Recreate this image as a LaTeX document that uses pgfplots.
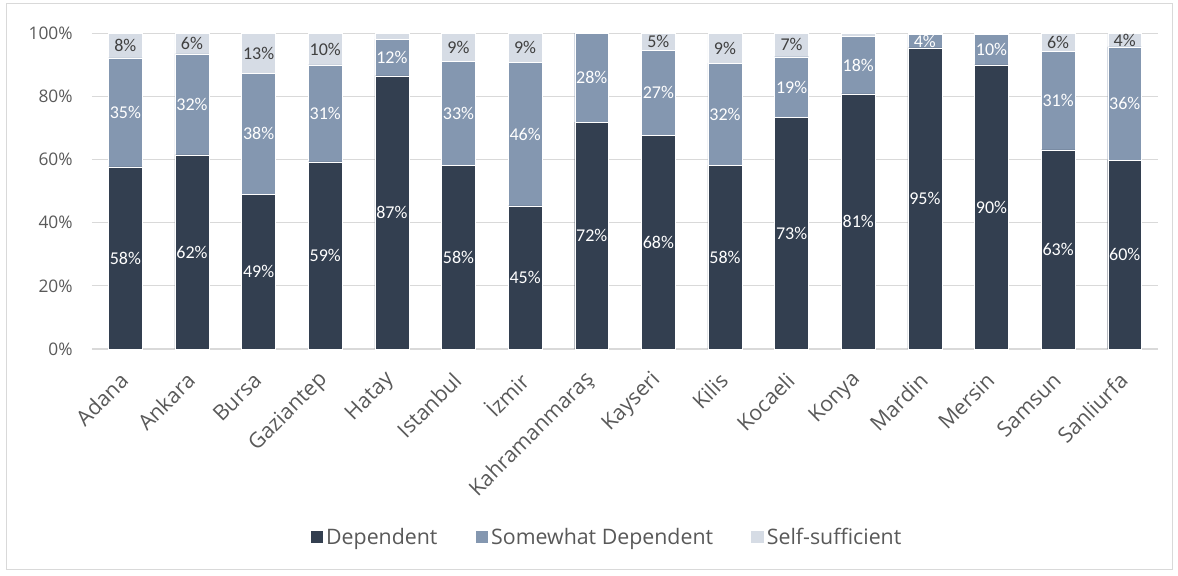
\documentclass[border=0pt]{standalone}
\usepackage{fontspec}
\setmainfont{Open Sans}
\newfontfamily\lblfont{Carlito}
\usepackage{pgfplots}
\usepackage{pgfplotstable}
\pgfplotsset{compat=1.18}

\definecolor{depc}{HTML}{333F50}
\definecolor{somc}{HTML}{8497B0}
\definecolor{selfc}{HTML}{D6DCE5}
\definecolor{gridc}{HTML}{D9D9D9}
\definecolor{txtc}{HTML}{595959}
\definecolor{lblc}{HTML}{404040}

% shares per city; labels as printed on the chart
\pgfplotstableread{
x  dep  som  slf  ld     ls     lf
0  57.6 34.5 7.9  58\%   35\%   8\%
1  61.4 32.0 6.6  62\%   32\%   6\%
2  49.0 38.3 12.7 49\%   38\%   13\%
3  59.2 30.7 10.1 59\%   31\%   10\%
4  86.4 11.7 1.9  87\%   12\%   {}
5  58.2 32.9 8.9  58\%   33\%   9\%
6  45.3 45.5 9.2  45\%   46\%   9\%
7  71.8 28.2 0.0  72\%   28\%   {}
8  67.7 26.9 5.4  68\%   27\%   5\%
9  58.2 32.3 9.5  58\%   32\%   9\%
10 73.2 19.3 7.5  73\%   19\%   7\%
11 80.7 18.3 1.0  81\%   18\%   {}
12 95.3 4.3  0.4  95\%   4\%    {}
13 89.9 9.6  0.5  90\%   10\%   {}
14 63.0 31.3 5.7  63\%   31\%   6\%
15 59.8 35.8 4.4  60\%   36\%   4\%
}\data

\begin{document}
\begin{tikzpicture}
\pgfplotsset{
  base/.style={width=799.5pt, height=237pt, scale only axis,
    xmin=-0.5, xmax=15.5, ymin=0, ymax=100, clip=false},
  lbl/.style={draw=none, mark=none, nodes near coords, point meta=explicit symbolic,
    nodes near coords style={anchor=center, inner sep=0pt,
      font=\lblfont\fontsize{13.5}{15}\selectfont, text=#1}},
}
\begin{axis}[base, name=main,
  ybar stacked, bar width=0.51,
  axis lines*=left,
  x axis line style={gridc, line width=1pt},
  y axis line style={draw=none},
  major tick length=0pt,
  xtick={0,...,15},
  xticklabels={Adana,Ankara,Bursa,Gaziantep,Hatay,Istanbul,İzmir,Kahramanmaraş,Kayseri,Kilis,Kocaeli,Konya,Mardin,Mersin,Samsun,Sanliurfa},
  ytick={0,20,...,100},
  yticklabel={\pgfmathprintnumber[assume math mode=true]{\tick}\%},
  ymajorgrids, grid style={gridc, line width=0.75pt},
  tick label style={font=\fontsize{13}{15}\selectfont, text=txtc},
  yticklabel style={xshift=-11pt},
  xticklabel style={font=\fontsize{16}{18}\selectfont, inner sep=1pt,
    yshift=-20pt, xshift=0pt, rotate=45, anchor=east},
  legend style={at={(axis description cs:0.483,-0.595)}, anchor=center, draw=none,
    font=\fontsize{16}{18}\selectfont, text=txtc, legend columns=3,
    /tikz/every even column/.append style={column sep=26pt}},
  legend image code/.code={\fill[#1] (0pt,-5pt) rectangle (10pt,5pt);},
]
\addplot[fill=depc, draw=white, line width=0.3pt] table[x=x, y=dep]{\data};
\addplot[fill=somc, draw=white, line width=0.3pt] table[x=x, y=som]{\data};
\addplot[fill=selfc, draw=white, line width=0.3pt] table[x=x, y=slf]{\data};
\legend{Dependent, Somewhat Dependent, Self-sufficient}
\end{axis}
\begin{axis}[base, hide axis]
\addplot[lbl=white] table[x=x, y expr=\thisrow{dep}/2, meta=ld]{\data};
\addplot[lbl=white] table[x=x, y expr=\thisrow{dep}+\thisrow{som}/2, meta=ls]{\data};
\addplot[lbl=lblc] table[x=x, y expr=\thisrow{dep}+\thisrow{som}+\thisrow{slf}/2, meta=lf]{\data};
\end{axis}
\draw[gridc, line width=0.75pt] ([xshift=-63.75pt, yshift=-165pt]main.south west)
  rectangle ([xshift=10.5pt, yshift=21.75pt]main.north east);
\path ([xshift=-69pt, yshift=-169.5pt]main.south west)
  rectangle ([xshift=15pt, yshift=24.75pt]main.north east);
\end{tikzpicture}
\end{document}
